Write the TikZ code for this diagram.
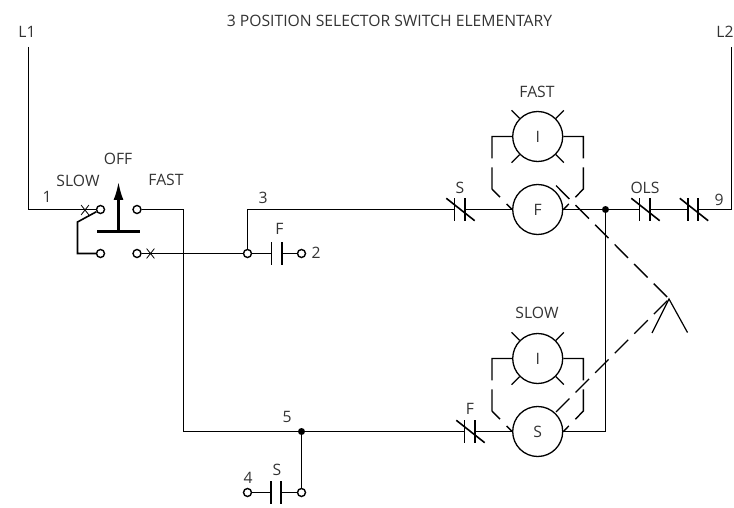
\documentclass[tikz,border=0pt]{standalone}
\usepackage{fontspec}
\setmainfont{Open Sans}
\usetikzlibrary{shapes.misc,arrows.meta}
\newcommand{\tailleg}{\fontsize{15.7}{17}\selectfont}
\newcommand{\contactbars}[1]{\draw[wire] (#1.north west) -- (#1.south west); \draw[wire] (#1.north east) -- (#1.south east);}
\newcommand{\contactcut}[1]{\draw[wire] ([xshift=-8pt]#1.north west) -- ([xshift=10pt]#1.south east);}
\newcommand{\lamprays}[1]{\draw[thinwire] (#1.45) -- ++(8,8); \draw[thinwire] (#1.135) -- ++(-8,8); \draw[thinwire] (#1.225) -- ++(-8,-8); \draw[thinwire] (#1.315) -- ++(8,-8);}
\tikzset{
  wire/.style={line width=1.6pt},
  thinwire/.style={line width=1.2pt},
  tag/.style={font=\tailleg,text=black!80,inner sep=0pt},
  term/.style={draw,circle,line width=1.4pt,fill=white,minimum size=8pt,inner sep=0pt},
  dotn/.style={circle,fill=black,minimum size=7pt,inner sep=0pt},
  xmark/.style={cross out,draw,line width=0.8pt,minimum width=7pt,minimum height=9pt,inner sep=0pt},
  contact/.style={minimum width=10pt,minimum height=22pt,inner sep=0pt},
  lamp/.style={draw,circle,line width=1.3pt,minimum size=50pt,inner sep=0pt,font=\tailleg,text=black!80},
  bridge/.style={line width=1.4pt,dash pattern=on 42pt off 9pt on 33pt off 9.5pt on 12pt},
  action/.style={line width=1.4pt,dash pattern=on 19pt off 8.7pt}
}
\begin{document}
\begin{tikzpicture}[x=1pt,y=1pt]
        \useasboundingbox (0,0) rectangle (734,-508);
        % labels
        \node[tag] (title) at (389.5,-21) {3 POSITION SELECTOR SWITCH ELEMENTARY};
        \node[tag] (tl1) at (27,-32) {L1};
        \node[tag] (tl2) at (725,-32) {L2};
        \node[tag] (n1) at (47,-197) {1};
        \node[tag] (tslow) at (78,-181) {SLOW};
        \node[tag] (toff) at (118,-159) {OFF};
        \node[tag] (tfast) at (166,-180) {FAST};
        \node[tag] (n3) at (263,-198) {3};
        \node[tag] (tf) at (279.5,-229) {F};
        \node[tag] (n2) at (316,-253) {2};
        \node[tag] (ts) at (460,-188) {S};
        \node[tag] (tols) at (645,-188) {OLS};
        \node[tag] (n9) at (719,-200) {9};
        \node[tag] (lfast) at (537,-92) {FAST};
        \node[tag] (lslow) at (537,-313) {SLOW};
        \node[tag] (tf2) at (470,-409) {F};
        \node[tag] (n5) at (287,-417) {5};
        \node[tag] (ts2) at (277,-470) {S};
        \node[tag] (n4) at (248,-478) {4};
        % selector switch
        \node[term] (a) at (100.5,-209.5) {};
        \node[term] (b) at (137,-209.5) {};
        \node[term] (c) at (100.5,-253.5) {};
        \node[term] (d) at (137,-253.5) {};
        \coordinate (l1top) at (28.5,-47);
        \coordinate (l2top) at (731.5,-47);
        \coordinate (kink) at (77.5,-222);
        \coordinate (hand) at (118.5,-231);
        \coordinate (handtip) at (118.5,-182);
        \coordinate (barl) at (97,-231);
        \coordinate (barr) at (140,-231);
        \draw[wire] (l1top) |- (a);
        \draw[wire] (a) -- (kink) |- (c);
        \draw[line width=3pt] (barl) -- (barr);
        \draw[-{Latex[length=18pt,width=10pt]},line width=2.2pt] (hand) -- (handtip);
        \node[xmark] (xa) at (85,-210) {};
        \node[xmark] (xd) at (150.5,-253.5) {};
        % top rung
        \node[term] (e) at (247.5,-253.5) {};
        \node[term] (g) at (301.5,-253.5) {};
        \node[contact] (cf) at (276.5,-253.5) {};
        \node[contact] (cs) at (459.5,-209.5) {};
        \node[lamp] (lampf) at (537.7,-209.5) {F};
        \node[lamp] (ifast) at (537.7,-136.5) {I};
        \node[dotn] (j1) at (605.5,-209.5) {};
        \node[contact] (cols) at (644.5,-209.5) {};
        \node[contact] (cov) at (693,-209.5) {};
        \draw[wire] (d) -- (e);
        \draw[wire] (e) |- (cs.west);
        \draw[wire] (cs.east) -- (lampf.west);
        \draw[wire] (e) -- (cf.west);
        \draw[wire] (cf.east) -- (g);
        \draw[wire] (lampf.east) -- (j1);
        \draw[wire] (j1) -- (cols.west);
        \draw[wire] (cols.east) -- (cov.west);
        \draw[wire] (cov.east) -| (l2top);
        \contactbars{cf}
        \contactbars{cs}
        \contactcut{cs}
        \contactbars{cols}
        \contactcut{cols}
        \contactbars{cov}
        \contactcut{cov}
        \lamprays{ifast}
        \coordinate (fl1) at (492,-136.5);
        \coordinate (fl2) at (492,-189);
        \coordinate (fr1) at (583.4,-136.5);
        \coordinate (fr2) at (583.4,-189);
        \draw[bridge] (ifast.west) -- (fl1) -- (fl2) -- (lampf.west);
        \draw[bridge] (ifast.east) -- (fr1) -- (fr2) -- (lampf.east);
        % bottom rung
        \node[dotn] (j2) at (301.5,-431.5) {};
        \node[contact] (cf2) at (469.5,-431.5) {};
        \node[lamp] (lamps) at (537.7,-431.5) {S};
        \node[lamp] (islow) at (537.7,-358.5) {I};
        \node[term] (h) at (301.5,-492.5) {};
        \node[term] (k) at (247.5,-492.5) {};
        \node[contact] (cs2) at (276,-492.5) {};
        \coordinate (drop) at (183.5,-431.5);
        \draw[wire] (b) -| (drop) -- (j2);
        \draw[wire] (j2) -- (cf2.west);
        \draw[wire] (cf2.east) -- (lamps.west);
        \draw[wire] (lamps.east) -| (j1);
        \draw[wire] (j2) -- (h);
        \draw[wire] (h) -- (cs2.east);
        \draw[wire] (cs2.west) -- (k);
        \contactbars{cf2}
        \contactcut{cf2}
        \contactbars{cs2}
        \lamprays{islow}
        \coordinate (sl1) at (492,-358.5);
        \coordinate (sl2) at (492,-411);
        \coordinate (sr1) at (583.4,-358.5);
        \coordinate (sr2) at (583.4,-411);
        \draw[bridge] (islow.west) -- (sl1) -- (sl2) -- (lamps.west);
        \draw[bridge] (islow.east) -- (sr1) -- (sr2) -- (lamps.east);
        % mechanical link
        \coordinate (apex) at (669,-299);
        \coordinate (legl) at (652,-333);
        \coordinate (legr) at (687.5,-332.5);
        \coordinate (startf) at (556,-185.5);
        \coordinate (starts) at (556,-412);
        \draw[action] (startf) -- (apex);
        \draw[action] (starts) -- (apex);
        \draw[thinwire] (legl) -- (apex) -- (legr);
\end{tikzpicture}
\end{document}
